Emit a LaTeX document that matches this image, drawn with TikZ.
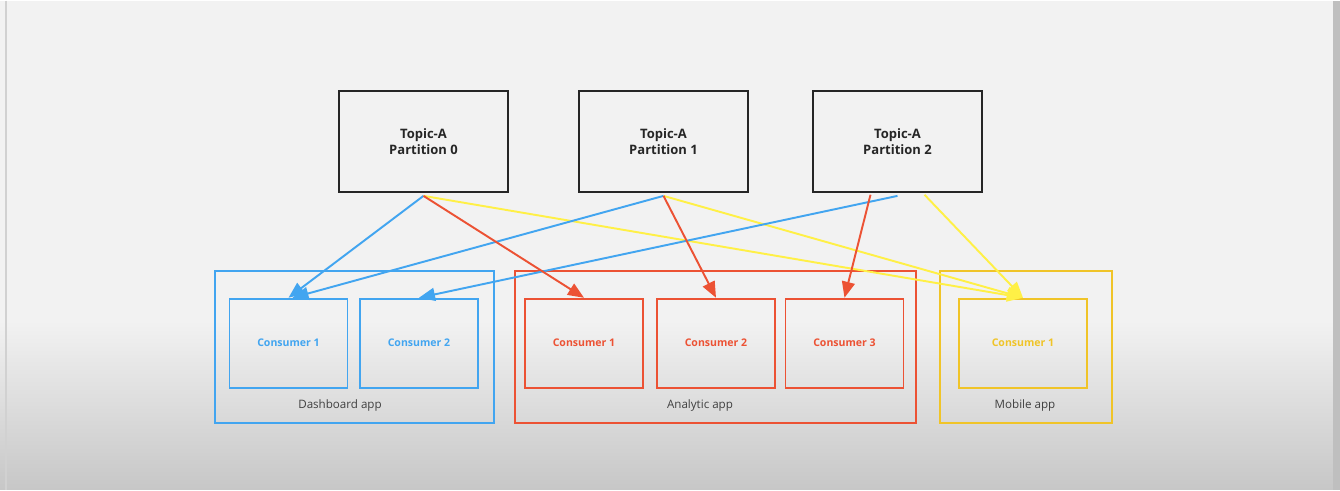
\documentclass[tikz,border=0pt]{standalone}
\usepackage{fontspec}
\setmainfont{Open Sans}
\usetikzlibrary{arrows.meta,calc}
\definecolor{dashblue}{RGB}{66,165,240}
\definecolor{anared}{RGB}{236,82,52}
\definecolor{mobyel}{RGB}{240,196,40}
\definecolor{lineyel}{RGB}{255,240,70}
\definecolor{slide}{RGB}{242,242,242}

\begin{document}
\begin{tikzpicture}[x=0.02cm, y=-0.02cm,
  topic/.style={draw=black!85, line width=1.2pt, minimum width=3.38cm, minimum height=2.02cm, align=center, font=\fontsize{7.4}{9.2}\selectfont\bfseries, text=black!85},
  consumer/.style={draw, line width=1.1pt, minimum width=2.36cm, minimum height=1.78cm, font=\fontsize{6}{7}\selectfont\bfseries},
  appbox/.style={draw, line width=1.1pt},
  applabel/.style={font=\fontsize{6.6}{8}\selectfont, text=black!75},
  feed/.style={line width=1.1pt, -{Triangle[length=0.32cm, width=0.26cm]}}]
  % slide background
  \fill[slide] (0,0) rectangle (1340,489);
  \shade[top color=slide, bottom color=black!22] (0,320) rectangle (1340,489);
  \fill[black!25] (1333,0) rectangle (1340,489);
  \draw[black!18, line width=0.8pt] (6,0) -- (6,489);
  \useasboundingbox (0,0) rectangle (1340,489);

  % partitions
  \node[topic] (p0) at (423.5,141) {Topic-A\\Partition 0};
  \node[topic] (p1) at (663.5,141) {Topic-A\\Partition 1};
  \node[topic] (p2) at (897.5,141) {Topic-A\\Partition 2};

  % apps
  \draw[appbox, dashblue] (215,270) rectangle (494,422);
  \draw[appbox, anared] (515,270) rectangle (916,422);
  \draw[appbox, mobyel] (940,270) rectangle (1112,422);
  \node[applabel] (dlbl) at (340,405) {Dashboard app};
  \node[applabel] (albl) at (700,405) {Analytic app};
  \node[applabel] (mlbl) at (1025,405) {Mobile app};

  % consumers
  \node[consumer, draw=dashblue, text=dashblue] (dc1) at (288.5,342.5) {Consumer 1};
  \node[consumer, draw=dashblue, text=dashblue] (dc2) at (419,342.5) {Consumer 2};
  \node[consumer, draw=anared, text=anared] (ac1) at (584,342.5) {Consumer 1};
  \node[consumer, draw=anared, text=anared] (ac2) at (716,342.5) {Consumer 2};
  \node[consumer, draw=anared, text=anared] (ac3) at (844.5,342.5) {Consumer 3};
  \node[consumer, draw=mobyel, text=mobyel, minimum width=2.56cm] (mc1) at (1023,342.5) {Consumer 1};

  % assignments
  \draw[feed, lineyel] ([yshift=-1.5]p0.south) -- (mc1.north);
  \draw[feed, lineyel] ([yshift=-1.5]p1.south) -- (mc1.north);
  \draw[feed, lineyel] ($(p2.south)+(27,1.5)$) -- (mc1.north);
  \draw[feed, dashblue] ([yshift=-1.5]p0.south) -- (dc1.north);
  \draw[feed, dashblue] ([yshift=-1.5]p1.south) -- ($(dc1.north)+(4,0)$);
  \draw[feed, dashblue] ([yshift=-1.5]p2.south) -- (dc2.north);
  \draw[feed, anared] ([yshift=-1.5]p0.south) -- (ac1.north);
  \draw[feed, anared] ([yshift=-1.5]p1.south) -- (ac2.north);
  \draw[feed, anared] ($(p2.south)+(-27,1.5)$) -- (ac3.north);
\end{tikzpicture}
\end{document}
